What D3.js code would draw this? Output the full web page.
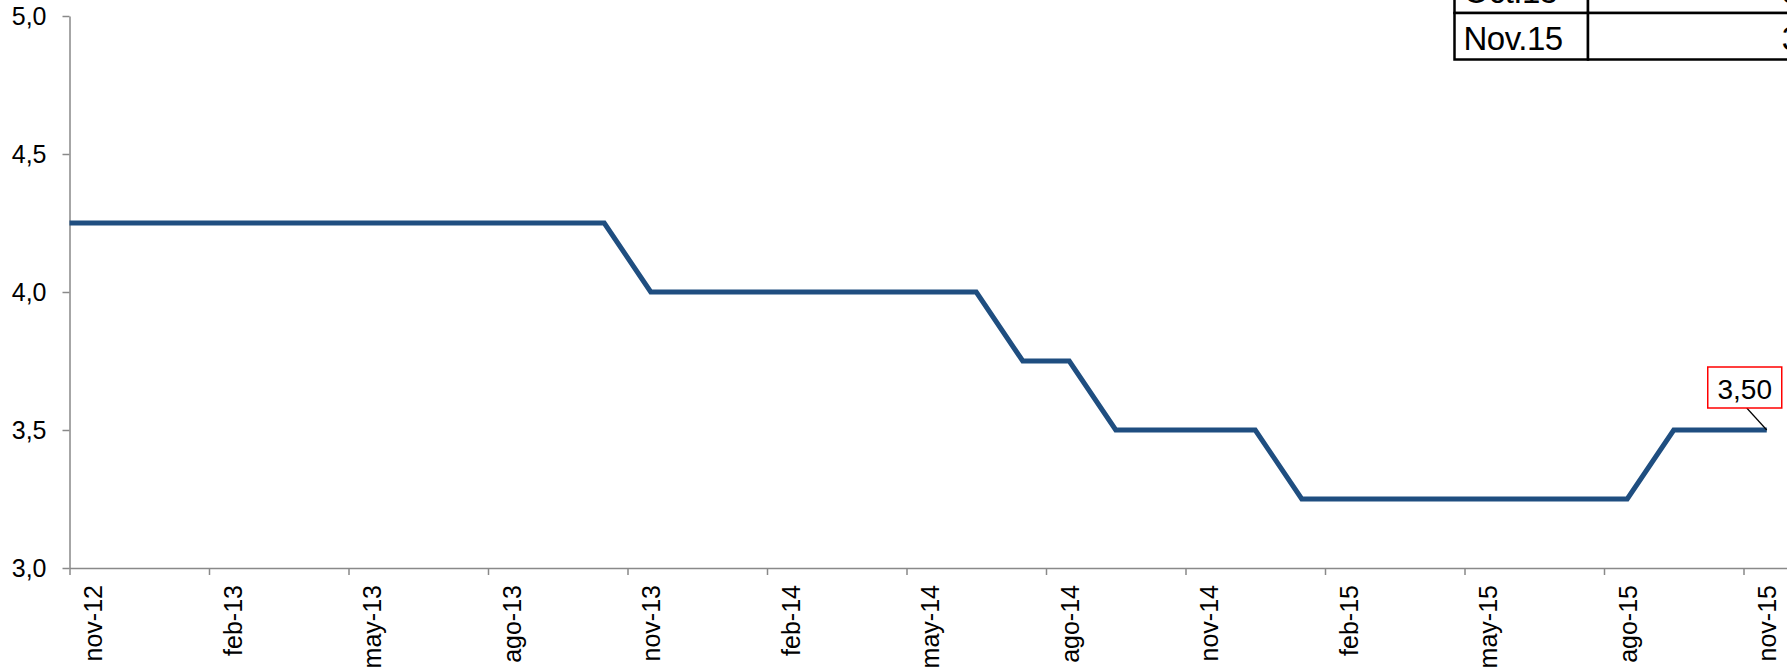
<!DOCTYPE html>
<html>
<head>
<meta charset="utf-8">
<script src="https://cdn.jsdelivr.net/npm/d3@7"></script>
<style>
  body { margin: 0; background: #fff; overflow: hidden; }
  svg { display: block; font-family: "Liberation Sans", Arial, sans-serif; }
</style>
</head>
<body>
<div id="chart"></div>
<script>
// tasa de referencia, mensual (oct-12 queda fuera del eje, solo da el tramo inicial)
let months = ["oct-12", "nov-12", "dic-12", "ene-13", "feb-13", "mar-13", "abr-13", "may-13", "jun-13",
    "jul-13", "ago-13", "sep-13", "oct-13", "nov-13", "dic-13", "ene-14", "feb-14", "mar-14", "abr-14",
    "may-14", "jun-14", "jul-14", "ago-14", "sep-14", "oct-14", "nov-14", "dic-14", "ene-15", "feb-15",
    "mar-15", "abr-15", "may-15", "jun-15", "jul-15", "ago-15", "sep-15", "oct-15", "nov-15"];
let rate = [4.25,
    4.25, 4.25, 4.25, 4.25, 4.25, 4.25, 4.25, 4.25, 4.25, 4.25, 4.25, 4.25,
    4.00, 4.00, 4.00, 4.00, 4.00, 4.00, 4.00, 4.00,
    3.75, 3.75,
    3.50, 3.50, 3.50, 3.50,
    3.25, 3.25, 3.25, 3.25, 3.25, 3.25, 3.25, 3.25,
    3.50, 3.50, 3.50];
let yTicks = [3.0, 3.5, 4.0, 4.5, 5.0];
let xTickIdx = [1, 4, 7, 10, 13, 16, 19, 22, 25, 28, 31, 34, 37];
let tableRows = [["Oct.15", "3,50"], ["Nov.15", "3,50"]];

let svgW = 1787, svgH = 671;
let plotLeft = 69.5, plotTop = 16, plotBottom = 568;
let monthW = 46.5;
let axisColor = "#898989";
let lineColor = "#1f4e80";

let svg = d3.select("#chart")
    .append("svg")
    .attr("width", svgW)
    .attr("height", svgH);

let x = d3.scaleLinear()
    .domain([1, 38])
    .range([plotLeft, plotLeft + 37 * monthW]);
let y = d3.scaleLinear()
    .domain([3, 5])
    .range([plotBottom, plotTop]);

let comma = function (v) { return d3.format(".1f")(v).replace(".", ","); };

// eje y
let yAxis = svg.append("g")
    .attr("transform", "translate(" + plotLeft + ",0)")
    .call(d3.axisLeft(y).tickValues(yTicks).tickFormat(comma).tickSize(7).tickSizeOuter(0).tickPadding(16));
yAxis.select(".domain").attr("stroke", axisColor).attr("stroke-width", 1.5);
yAxis.selectAll(".tick line").attr("stroke", axisColor).attr("stroke-width", 1.5);
yAxis.selectAll("text").attr("font-size", 25).attr("fill", "#000")
    .attr("font-family", "Liberation Sans, Arial, sans-serif");

// eje x (marcas en el inicio del mes, etiqueta al centro)
let xAxis = svg.append("g")
    .attr("transform", "translate(0," + plotBottom + ")")
    .call(d3.axisBottom(x).tickValues(xTickIdx).tickFormat(function (i) { return months[i]; })
        .tickSize(7).tickSizeOuter(0));
xAxis.select(".domain").attr("stroke", axisColor).attr("stroke-width", 1.5);
xAxis.selectAll(".tick line").attr("stroke", axisColor).attr("stroke-width", 1.5);
xAxis.selectAll("text")
    .attr("font-size", 25).attr("fill", "#000")
    .attr("font-family", "Liberation Sans, Arial, sans-serif")
    .attr("text-anchor", "end")
    .attr("transform", "translate(" + (monthW / 2) + ",0) rotate(-90)")
    .attr("x", -17)
    .attr("y", 0)
    .attr("dy", "0.35em");

// linea
svg.append("clipPath")
    .attr("id", "plot-clip")
    .append("rect")
    .attr("x", plotLeft)
    .attr("y", 0)
    .attr("width", svgW - plotLeft)
    .attr("height", svgH);

let line = d3.line()
    .x(function (d, i) { return x(i + 0.5); })
    .y(function (d) { return y(d); });

svg.append("path")
    .datum(rate)
    .attr("clip-path", "url(#plot-clip)")
    .attr("d", line)
    .attr("fill", "none")
    .attr("stroke", lineColor)
    .attr("stroke-width", 5);

// etiqueta del ultimo dato
let last = rate.length - 1;
let px = x(last + 0.5), py = y(rate[last]);
let boxW = 74, boxH = 41;
let bx = px - 22 - boxW / 2, by = py - 22 - boxH;
svg.append("line")
    .attr("x1", bx + boxW / 2 + 2)
    .attr("y1", by + boxH)
    .attr("x2", px)
    .attr("y2", py)
    .attr("stroke", "#000")
    .attr("stroke-width", 1.2);
svg.append("rect")
    .attr("x", bx)
    .attr("y", by)
    .attr("width", boxW)
    .attr("height", boxH)
    .attr("fill", "#fff")
    .attr("stroke", "#ff0000")
    .attr("stroke-width", 1.5);
svg.append("text")
    .attr("x", bx + boxW / 2)
    .attr("y", by + 32)
    .attr("text-anchor", "middle")
    .attr("font-size", 28)
    .text(d3.format(".2f")(rate[last]).replace(".", ","));

// tabla (recortada arriba a la derecha)
let rowH = 46.5, tableBottom = 59.5;
let col0 = 1454.5, col1 = 1588, col2 = 1852;
let table = svg.append("g");
tableRows.forEach(function (r, i) {
    let ry = tableBottom - (tableRows.length - i) * rowH;
    table.append("rect")
        .attr("x", col0).attr("y", ry)
        .attr("width", col1 - col0).attr("height", rowH)
        .attr("fill", "#fff").attr("stroke", "#000").attr("stroke-width", 2.5);
    table.append("rect")
        .attr("x", col1).attr("y", ry)
        .attr("width", col2 - col1).attr("height", rowH)
        .attr("fill", "#fff").attr("stroke", "#000").attr("stroke-width", 2.5);
    table.append("text")
        .attr("x", col0 + 9)
        .attr("y", ry + rowH - 10)
        .attr("font-size", 33)
        .attr("letter-spacing", -0.5)
        .text(r[0]);
    table.append("text")
        .attr("x", col2 - 6)
        .attr("y", ry + rowH - 10)
        .attr("text-anchor", "end")
        .attr("font-size", 33)
        .text(r[1]);
});
</script>
</body>
</html>
